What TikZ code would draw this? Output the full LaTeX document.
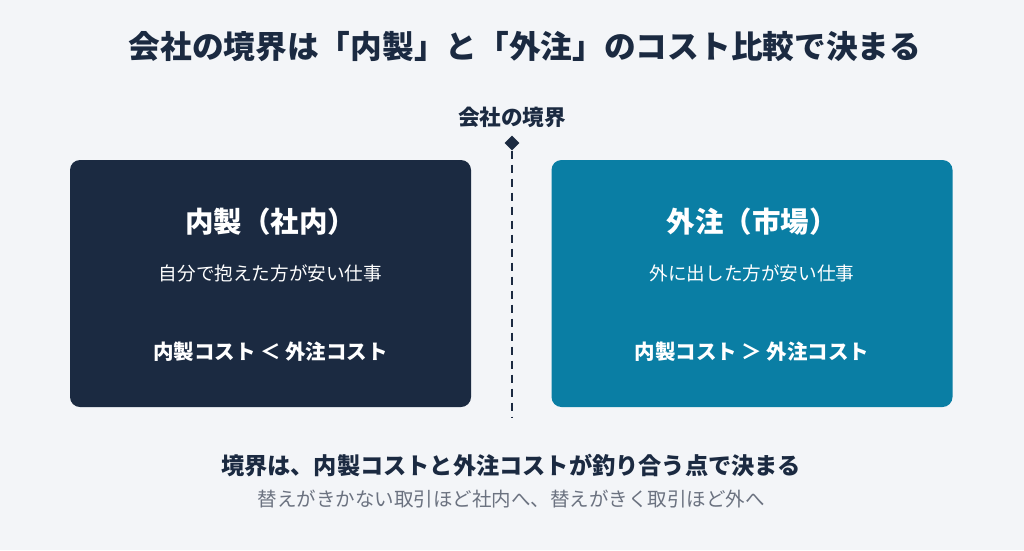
\documentclass[tikz,border=0pt]{standalone}
\usepackage{fontspec}
\setmainfont{Noto Sans CJK JP}
\usetikzlibrary{shapes.geometric}
\definecolor{bgcol}{HTML}{F3F5F8}
\definecolor{navy}{HTML}{1B2A41}
\definecolor{mktcol}{HTML}{0A7EA4}
\definecolor{subgray}{HTML}{6B7280}
\tikzset{
  panel/.style={rounded corners=10pt, minimum width=401pt, minimum height=247pt, inner sep=0pt},
  ptitle/.style={text=white, font=\fontsize{28.5}{32}\selectfont\bfseries},
  psub/.style={text=white, font=\fontsize{18.6}{22}\selectfont},
  pcost/.style={text=white, font=\fontsize{20.5}{24}\selectfont\bfseries},
}
\begin{document}
\begin{tikzpicture}[x=1pt,y=-1pt]
        \fill[bgcol] (0,0) rectangle (1024,550);
        \useasboundingbox (0,0) rectangle (1024,550);
        % Title
        \node[text=navy, font=\fontsize{31.7}{36}\selectfont\bfseries] (title) at (525,47) {会社の境界は「内製」と「外注」のコスト比較で決まる};
        % Boundary mark and dashed line
        \node[text=navy, font=\fontsize{21.6}{25}\selectfont\bfseries] (bndlabel) at (512,117) {会社の境界};
        \node[diamond, fill=navy, minimum size=15pt, inner sep=0pt] (bnd) at (512,143) {};
        \coordinate (bndend) at (512,418);
        \draw[navy, line width=2pt, dash pattern=on 8pt off 6pt] (bnd.south) -- (bndend);
        % Left panel: in-house
        \node[panel, fill=navy] (inhouse) at (270.5,283.5) {};
        \node[ptitle] (inttl) at (270.5,222) {内製（社内）};
        \node[psub] (insub) at (270.5,273) {自分で抱えた方が安い仕事};
        \node[pcost] (incost) at (270.5,352) {内製コスト ＜ 外注コスト};
        % Right panel: market
        \node[panel, fill=mktcol] (market) at (752,283.5) {};
        \node[ptitle] (mkttl) at (752,222) {外注（市場）};
        \node[psub] (mksub) at (752,273) {外に出した方が安い仕事};
        \node[pcost] (mkcost) at (752,352) {内製コスト ＞ 外注コスト};
        % Bottom summary
        \node[text=navy, font=\fontsize{23.2}{27}\selectfont\bfseries] (summary) at (511,465) {境界は、内製コストと外注コストが釣り合う点で決まる};
        \node[text=subgray, font=\fontsize{19.5}{23}\selectfont] (note) at (511,499) {替えがきかない取引ほど社内へ、替えがきく取引ほど外へ};
\end{tikzpicture}
\end{document}
